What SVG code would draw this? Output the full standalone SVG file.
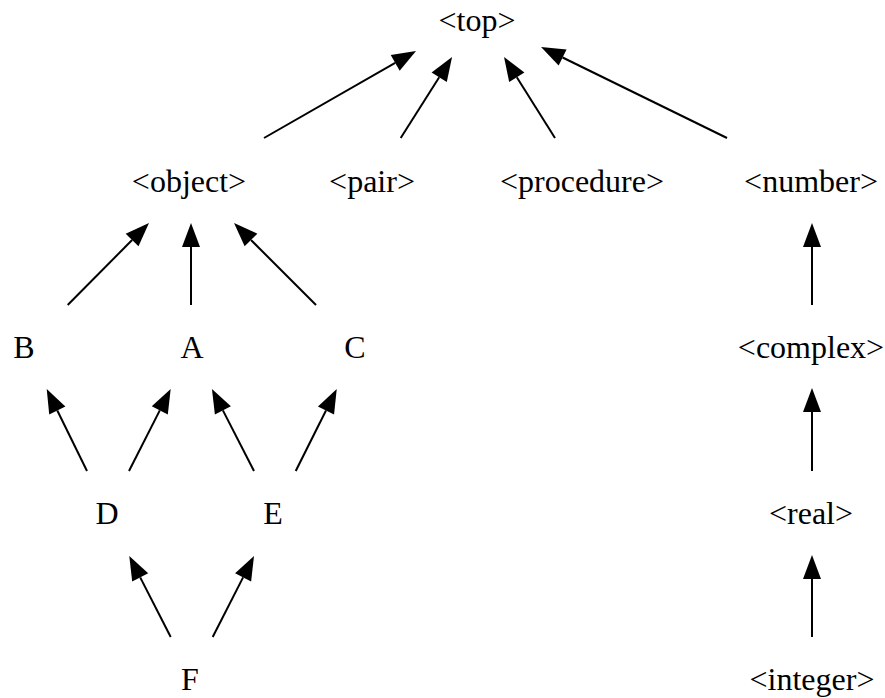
<svg xmlns="http://www.w3.org/2000/svg" width="885" height="698" viewBox="0 0 885 698">
<defs>
<style>
.t text{font-family:"Liberation Serif","Times New Roman",serif;font-size:32px;fill:#000;text-anchor:middle}
.e line{stroke:#000;stroke-width:2;fill:none}
</style>
<marker id="ah" markerUnits="userSpaceOnUse" markerWidth="24" markerHeight="18" refX="0" refY="9" orient="auto" viewBox="0 0 24 18" overflow="visible">
<path d="M0,0 L24,9 L0,18 z" fill="#000"/>
</marker>
</defs>
<rect width="885" height="698" fill="#fff"/>
<g id="connectors" class="e">
<line x1="264" y1="138" x2="395.2" y2="62.9" marker-end="url(#ah)"/>
<line x1="400.7" y1="138" x2="439.2" y2="77.3" marker-end="url(#ah)"/>
<line x1="555" y1="138" x2="516.8" y2="77.3" marker-end="url(#ah)"/>
<line x1="727" y1="138" x2="562.6" y2="57.5" marker-end="url(#ah)"/>
<line x1="67.7" y1="305" x2="132.1" y2="240" marker-end="url(#ah)"/>
<line x1="191" y1="305" x2="191" y2="247" marker-end="url(#ah)"/>
<line x1="316" y1="305" x2="251" y2="240" marker-end="url(#ah)"/>
<line x1="87" y1="471" x2="57.3" y2="410.5" marker-end="url(#ah)"/>
<line x1="129" y1="471" x2="159.8" y2="410.4" marker-end="url(#ah)"/>
<line x1="254" y1="471" x2="222.9" y2="410.4" marker-end="url(#ah)"/>
<line x1="295.7" y1="471" x2="326" y2="410.5" marker-end="url(#ah)"/>
<line x1="170.7" y1="637" x2="140.2" y2="577.4" marker-end="url(#ah)"/>
<line x1="212.7" y1="637" x2="243.1" y2="577.4" marker-end="url(#ah)"/>
<line x1="812" y1="305" x2="812" y2="247" marker-end="url(#ah)"/>
<line x1="812" y1="471" x2="812" y2="412" marker-end="url(#ah)"/>
<line x1="812" y1="637" x2="812" y2="579" marker-end="url(#ah)"/>
</g>
<g class="t">
<g id="n-top"><text x="477" y="31">&lt;top&gt;</text></g>
<g id="n-object"><text x="189" y="192">&lt;object&gt;</text></g>
<g id="n-pair"><text x="372" y="192">&lt;pair&gt;</text></g>
<g id="n-procedure"><text x="582" y="192">&lt;procedure&gt;</text></g>
<g id="n-number"><text x="811" y="192">&lt;number&gt;</text></g>
<g id="n-B"><text x="24" y="358">B</text></g>
<g id="n-A"><text x="192" y="358">A</text></g>
<g id="n-C"><text x="355" y="358">C</text></g>
<g id="n-complex"><text x="811" y="358">&lt;complex&gt;</text></g>
<g id="n-D"><text x="107" y="524">D</text></g>
<g id="n-E"><text x="273" y="524">E</text></g>
<g id="n-real"><text x="811" y="524">&lt;real&gt;</text></g>
<g id="n-F"><text x="190" y="690">F</text></g>
<g id="n-integer"><text x="812" y="690">&lt;integer&gt;</text></g>
</g>
</svg>
